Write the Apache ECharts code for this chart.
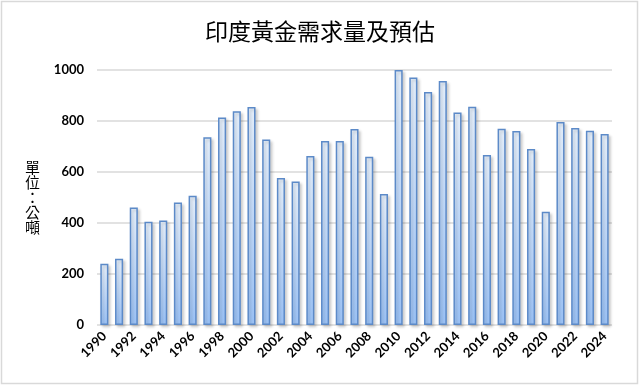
<!DOCTYPE html>
<html>
<head>
<meta charset="utf-8">
<script src="https://cdn.jsdelivr.net/npm/echarts@6/dist/echarts.min.js"></script>
<style>
html,body{margin:0;padding:0;background:#fff;}
#chart{width:640px;height:386px;}
</style>
</head>
<body>
<div id="chart"></div>
<script>
const titleText = '印度黃金需求量及預估';
const yAxisName = '單位：公噸';
const years = ['1990','1991','1992','1993','1994','1995','1996','1997','1998','1999',
  '2000','2001','2002','2003','2004','2005','2006','2007','2008','2009',
  '2010','2011','2012','2013','2014','2015','2016','2017','2018','2019',
  '2020','2021','2022','2023','2024'];
const demand = [240,260,461,405,410,480,507,736,814,838,
  855,727,576,563,663,722,722,769,660,514,
  1000,971,914,957,833,856,667,770,761,690,
  444,796,773,762,749];
const yTicks = [0,200,400,600,800,1000];

const chart = echarts.init(document.getElementById('chart'), null, {renderer:'canvas'});
chart.setOption({
  backgroundColor:'#fff',
  animation:false,
  title:{
    text:titleText,
    left:'center',
    top:15,
    textStyle:{fontFamily:'"Noto Sans CJK TC"',fontSize:23,fontWeight:'normal',color:'#000'}
  },
  graphic:[{
    type:'rect',
    shape:{x:1.5,y:1.5,width:636,height:382},
    style:{fill:'none',stroke:'#d9d9d9',lineWidth:1.5},
    silent:true
  }],
  grid:{left:97,right:28,top:70,bottom:61,containLabel:false},
  xAxis:{
    type:'category',
    data:years,
    axisLine:{show:false},
    axisTick:{show:false},
    axisLabel:{
      interval:1,
      rotate:45,
      margin:9,
      fontFamily:'Lato',
      fontWeight:'bold',
      fontSize:13,
      color:'#000'
    }
  },
  yAxis:{
    type:'value',
    min:yTicks[0],
    max:yTicks[yTicks.length-1],
    interval:200,
    name:yAxisName.split('').join('\n'),
    nameLocation:'middle',
    nameRotate:0,
    nameGap:57,
    nameTextStyle:{fontFamily:'"Noto Sans CJK TC"',fontSize:15,lineHeight:15,color:'#000'},
    axisLine:{show:false},
    axisTick:{show:false},
    axisLabel:{
      margin:13,
      fontFamily:'Lato',
      fontWeight:'bold',
      fontSize:13,
      color:'#000',
      formatter:function(v){return String(v);}
    },
    splitLine:{lineStyle:{color:'#d9d9d9',width:1.5}}
  },
  series:[{
    type:'bar',
    data:demand,
    barWidth:'55%',
    itemStyle:{
      color:new echarts.graphic.LinearGradient(0,0,0,1,[
        {offset:0,color:'#e6f0fc'},
        {offset:1,color:'#9cc3f7'}
      ]),
      borderColor:'#5c8ac8',
      borderWidth:1.5,
      shadowColor:'rgba(0,0,0,0.18)',
      shadowBlur:3,
      shadowOffsetX:2,
      shadowOffsetY:2
    }
  }]
});
</script>
</body>
</html>
